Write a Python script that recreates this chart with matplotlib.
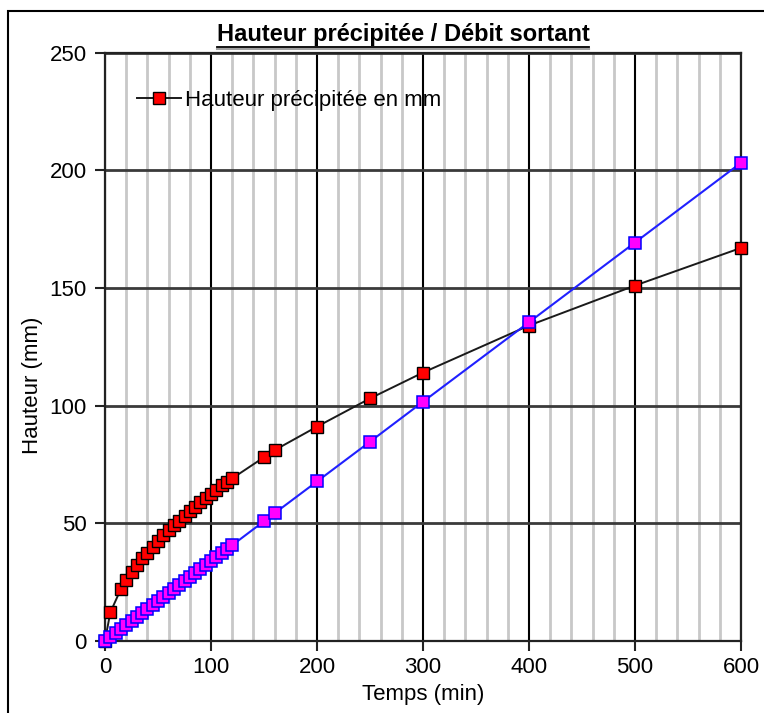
import matplotlib
matplotlib.use("Agg")
import matplotlib.pyplot as plt
from matplotlib.ticker import MultipleLocator
from matplotlib.patches import Rectangle
from matplotlib.lines import Line2D

plt.rcParams['font.family'] = ['Liberation Sans', 'DejaVu Sans']

# Hauteur précipitée (mm) en fonction du temps (min)
t_pluie = [0, 5, 15, 20, 25, 30, 35, 40, 45, 50, 55, 60, 65, 70, 75, 80, 85,
           90, 95, 100, 105, 110, 115, 120, 150, 160, 200, 250, 300, 400, 500, 600]
h_pluie = [0, 12, 22, 25.8, 29, 32, 35, 37.5, 40, 42.5, 45, 47, 49, 51, 53, 55,
           57, 59, 60.5, 62.5, 64, 66, 67.5, 69, 78, 81, 91, 103, 114, 134, 151, 167]

# Débit sortant cumulé (mm)
t_debit = [0, 5, 10, 15, 20, 25, 30, 35, 40, 45, 50, 55, 60, 65, 70, 75, 80, 85,
           90, 95, 100, 105, 110, 115, 120, 150, 160, 200, 250, 300, 400, 500, 600]
h_debit = [0, 1.7, 3.4, 5.1, 6.8, 8.5, 10.2, 11.9, 13.5, 15.2, 16.9, 18.6, 20.3,
           22, 23.7, 25.4, 27.1, 28.8, 30.5, 32.2, 33.9, 35.6, 37.2, 38.9, 40.6,
           50.8, 54.2, 67.7, 84.6, 101.6, 135.4, 169.3, 203.2]

W, H = 764, 713
fig = plt.figure(figsize=(W / 100, H / 100), dpi=100)
ax = fig.add_axes([105 / W, 1 - 640.7 / H, 636 / W, 588 / H])

ax.plot(t_pluie, h_pluie, '-', color='#1a1a1a', lw=1.4, marker='s', ms=8.3,
        mfc='#ff0000', mec='#000000', mew=1.0, clip_on=False, zorder=3,
        label="Hauteur précipitée en mm")
ax.plot(t_debit, h_debit, '-', color='#2020ff', lw=1.5, marker='s', ms=8.6,
        mfc='#ff00ff', mec='#0000ff', mew=1.1, clip_on=False, zorder=4,
        label='_nolegend_')

ax.set_xlim(0, 600)
ax.set_ylim(0, 250)
ax.xaxis.set_major_locator(MultipleLocator(100))
ax.xaxis.set_minor_locator(MultipleLocator(20))
ax.yaxis.set_major_locator(MultipleLocator(50))

ax.grid(which='minor', axis='x', color='#c8c8c8', lw=2.0)
ax.grid(which='major', axis='x', color='#000000', lw=1.5)
ax.grid(which='major', axis='y', color='#3a3a3a', lw=2.0)
ax.set_axisbelow(True)

for s in ax.spines.values():
    s.set_color('#222222')
    s.set_linewidth(1.6)

ax.tick_params(which='major', direction='out', length=7, width=1.5,
               labelsize=16, color='#222222')
ax.tick_params(axis='x', which='minor', length=0)
ax.tick_params(axis='y', pad=6)
ax.tick_params(axis='x', pad=5)

ax.set_xlabel("Temps (min)", fontsize=16, labelpad=4)
ax.set_ylabel("Hauteur (mm)", fontsize=16)
ax.yaxis.set_label_coords(-0.097, 0.435)

ax.legend(loc='center left', bbox_to_anchor=(0.05, 0.9195), frameon=False,
          borderpad=0, borderaxespad=0, handlelength=2.0, handletextpad=0.15,
          fontsize=16)

# titre souligné
title = fig.text(403 / W, 1 - 34.5 / H, "Hauteur précipitée / Débit sortant",
                 ha='center', va='center', fontsize=17, fontweight='bold')
fig.canvas.draw()
bb = title.get_window_extent().transformed(fig.transFigure.inverted())
fig.add_artist(Line2D([bb.x0, bb.x1], [1 - 48.5 / H] * 2, color='#a0a0a0',
                      lw=1.5, transform=fig.transFigure))
fig.add_artist(Line2D([bb.x0, bb.x1], [1 - 46.5 / H] * 2, color='#000000',
                      lw=1.3, transform=fig.transFigure))

# cadre de la fenêtre
fig.add_artist(Rectangle((8 / W, -0.2), 1.2, 1.2 - 11 / H,
                         transform=fig.transFigure, fill=False,
                         ec='#000000', lw=1.5))

fig.savefig("out.png", dpi=100)
